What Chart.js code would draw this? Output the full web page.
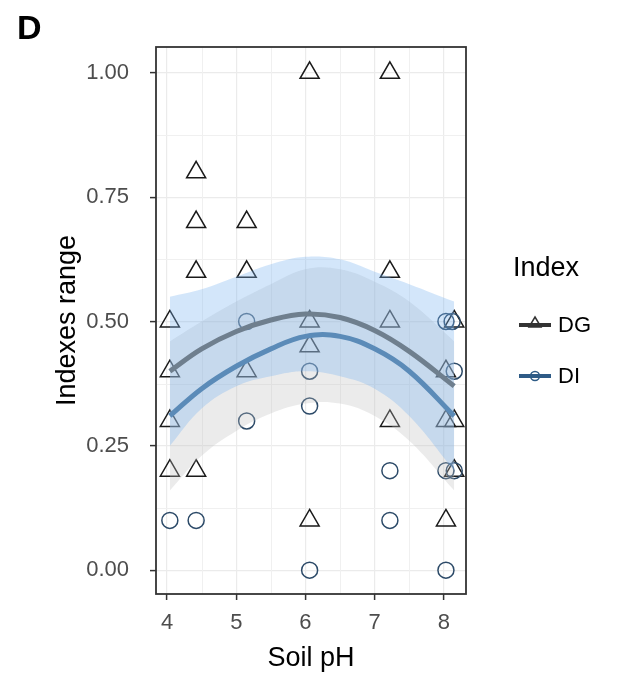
<!DOCTYPE html>
<html>
<head>
<meta charset="utf-8">
<script src="https://cdn.jsdelivr.net/npm/chart.js@4.4.1/dist/chart.umd.min.js"></script>
<style>
  html, body { margin: 0; padding: 0; background: #fff; }
  #wrap { position: relative; width: 625px; height: 678px; }
</style>
</head>
<body>
<div id="wrap"><canvas id="chart" width="625" height="678"></canvas></div>
<script>
// 軸の設定
const panelLabel = 'D';
const xTitle = 'Soil pH';
const yTitle = 'Indexes range';
const legendTitle = 'Index';
const xMin = 3.84, xMax = 8.32;
const yMin = -0.048, yMax = 1.052;
const xTicks = [4, 5, 6, 7, 8];
const yTicks = [0, 0.25, 0.5, 0.75, 1];
const yTickLabels = ['0.00', '0.25', '0.50', '0.75', '1.00'];
const xMinor = [4.5, 5.5, 6.5, 7.5];
const yMinor = [0.125, 0.375, 0.625, 0.875];

// 観測値 (DG = 三角, DI = 丸)
const dgPH    = [4.04, 4.04, 4.04, 4.04, 4.42, 4.42, 4.42, 4.42, 5.15, 5.15, 5.15, 6.06, 6.06, 6.06, 6.06, 7.22, 7.22, 7.22, 7.22, 8.03, 8.03, 8.03, 8.15, 8.15, 8.15];
const dgIndex = [0.5, 0.4, 0.3, 0.2, 0.8, 0.7, 0.6, 0.2, 0.7, 0.6, 0.4, 1.0, 0.5, 0.45, 0.1, 1.0, 0.6, 0.5, 0.3, 0.4, 0.3, 0.1, 0.5, 0.3, 0.2];
const diPH    = [4.04, 4.42, 5.15, 5.15, 6.06, 6.06, 6.06, 7.22, 7.22, 8.03, 8.03, 8.03, 8.12, 8.15, 8.15];
const diIndex = [0.1, 0.1, 0.5, 0.3, 0.4, 0.33, 0.0, 0.2, 0.1, 0.5, 0.2, 0.0, 0.5, 0.4, 0.2];

// 回帰曲線と信頼区間
const fitPH   = [4.04, 4.5, 5, 5.5, 6, 6.5, 7, 7.5, 8.15];
const dgFit   = [0.40, 0.445, 0.48, 0.503, 0.515, 0.508, 0.482, 0.44, 0.37];
const dgUpper = [0.55, 0.565, 0.59, 0.615, 0.63, 0.625, 0.60, 0.575, 0.54];
const dgLower = [0.25, 0.325, 0.37, 0.39, 0.40, 0.39, 0.365, 0.31, 0.20];
const diFit   = [0.31, 0.365, 0.41, 0.445, 0.47, 0.47, 0.445, 0.40, 0.31];
const diUpper = [0.46, 0.50, 0.54, 0.575, 0.605, 0.605, 0.58, 0.54, 0.46];
const diLower = [0.16, 0.23, 0.28, 0.315, 0.335, 0.335, 0.31, 0.26, 0.16];

const FONT = "'Liberation Sans', Arial, sans-serif";

const pairs = (xs, ys) => xs.map((x, i) => ({ x: x, y: ys[i] }));

const curve = (ys, color, width, order) => ({
  data: pairs(fitPH, ys),
  showLine: true,
  borderColor: color,
  borderWidth: width,
  pointRadius: 0,
  fill: false,
  tension: 0.4,
  order: order
});

const band = (ys, fill, fillColor, order) => ({
  data: pairs(fitPH, ys),
  showLine: true,
  borderWidth: 0,
  borderColor: 'rgba(0,0,0,0)',
  backgroundColor: fillColor,
  pointRadius: 0,
  fill: fill,
  tension: 0.4,
  order: order
});

// 補助目盛り線・枠・凡例などの描画
const decorPlugin = {
  id: 'decor',
  beforeDatasetsDraw(chart) {
    const { ctx, chartArea: a, scales: { x, y } } = chart;
    ctx.save();
    ctx.strokeStyle = '#f0f0f0';
    ctx.lineWidth = 1;
    xMinor.forEach(v => {
      const px = Math.round(x.getPixelForValue(v)) + 0.5;
      ctx.beginPath(); ctx.moveTo(px, a.top); ctx.lineTo(px, a.bottom); ctx.stroke();
    });
    yMinor.forEach(v => {
      const py = Math.round(y.getPixelForValue(v)) + 0.5;
      ctx.beginPath(); ctx.moveTo(a.left, py); ctx.lineTo(a.right, py); ctx.stroke();
    });
    ctx.restore();
  },
  afterDatasetsDraw(chart) {
    const { ctx, chartArea: a } = chart;
    ctx.save();
    ctx.strokeStyle = '#333333';
    ctx.lineWidth = 1.8;
    ctx.strokeRect(a.left, a.top, a.right - a.left, a.bottom - a.top);
    ctx.restore();
  },
  afterDraw(chart) {
    const ctx = chart.ctx;
    ctx.save();
    // パネルラベル
    ctx.fillStyle = '#000';
    ctx.font = 'bold 34px ' + FONT;
    ctx.textBaseline = 'middle';
    ctx.textAlign = 'left';
    ctx.fillText(panelLabel, 17, 30);

    // 凡例
    ctx.font = '27px ' + FONT;
    ctx.fillText(legendTitle, 513, 269);
    const keys = [
      { label: 'DG', color: '#333333', y: 325, shape: 'triangle' },
      { label: 'DI', color: '#2e5b86', y: 376, shape: 'circle' }
    ];
    keys.forEach(k => {
      ctx.strokeStyle = k.color;
      ctx.lineWidth = 4;
      ctx.beginPath(); ctx.moveTo(519, k.y); ctx.lineTo(551, k.y); ctx.stroke();
      ctx.lineWidth = 1.5;
      ctx.beginPath();
      if (k.shape === 'triangle') {
        ctx.moveTo(535, k.y - 8); ctx.lineTo(541, k.y + 2); ctx.lineTo(529, k.y + 2); ctx.closePath();
      } else {
        ctx.arc(535, k.y, 4.5, 0, Math.PI * 2);
      }
      ctx.stroke();
      ctx.fillStyle = '#000';
      ctx.font = '22px ' + FONT;
      ctx.fillText(k.label, 558, k.y + 1);
    });
    ctx.restore();
  }
};

const ctx = document.getElementById('chart').getContext('2d');
new Chart(ctx, {
  type: 'scatter',
  data: {
    datasets: [
      {
        label: 'DG',
        data: pairs(dgPH, dgIndex),
        pointStyle: 'triangle',
        pointRadius: 11,
        borderColor: '#1a1a1a',
        backgroundColor: 'rgba(0,0,0,0)',
        borderWidth: 1.5,
        order: 10
      },
      {
        label: 'DI',
        data: pairs(diPH, diIndex),
        pointStyle: 'circle',
        pointRadius: 8,
        borderColor: '#2c4a68',
        backgroundColor: 'rgba(0,0,0,0)',
        borderWidth: 1.5,
        order: 9
      },
      band(diUpper, '+1', 'rgba(190,190,190,0.3)', 8),
      band(diLower, false, 'rgba(0,0,0,0)', 8),
      band(dgUpper, '+1', 'rgba(120,178,240,0.33)', 7),
      band(dgLower, false, 'rgba(0,0,0,0)', 7),
      curve(dgFit, '#6f7f8e', 5, 2),
      curve(diFit, '#5b8bb8', 5, 1)
    ]
  },
  options: {
    responsive: false,
    animation: false,
    devicePixelRatio: 1,
    layout: { padding: { left: 0, top: 47, right: 159, bottom: 0 } },
    plugins: {
      legend: { display: false },
      tooltip: { enabled: false },
      title: { display: false }
    },
    scales: {
      x: {
        type: 'linear',
        min: xMin,
        max: xMax,
        afterBuildTicks: s => { s.ticks = xTicks.map(v => ({ value: v })); },
        afterFit: s => { s.height = 84; },
        ticks: {
          color: '#4d4d4d',
          font: { family: FONT, size: 22 },
          padding: 10,
          maxRotation: 0
        },
        grid: { color: '#ebebeb', lineWidth: 1.2, tickLength: 6, tickColor: '#333333', tickWidth: 1.5 },
        border: { display: false },
        title: {
          display: true,
          text: xTitle,
          color: '#000',
          font: { family: FONT, size: 27 },
          padding: { top: 0, bottom: 3 }
        }
      },
      y: {
        type: 'linear',
        min: yMin,
        max: yMax,
        afterBuildTicks: s => { s.ticks = yTicks.map(v => ({ value: v })); },
        afterFit: s => { s.width = 156; },
        ticks: {
          color: '#4d4d4d',
          font: { family: FONT, size: 22 },
          padding: 21,
          callback: (v, i) => yTickLabels[i]
        },
        grid: { color: '#ebebeb', lineWidth: 1.2, tickLength: 6, tickColor: '#333333', tickWidth: 1.5 },
        border: { display: false },
        title: {
          display: true,
          text: yTitle,
          color: '#000',
          font: { family: FONT, size: 27 },
          padding: { top: 51, bottom: 0 }
        }
      }
    }
  },
  plugins: [decorPlugin]
});
</script>
</body>
</html>
